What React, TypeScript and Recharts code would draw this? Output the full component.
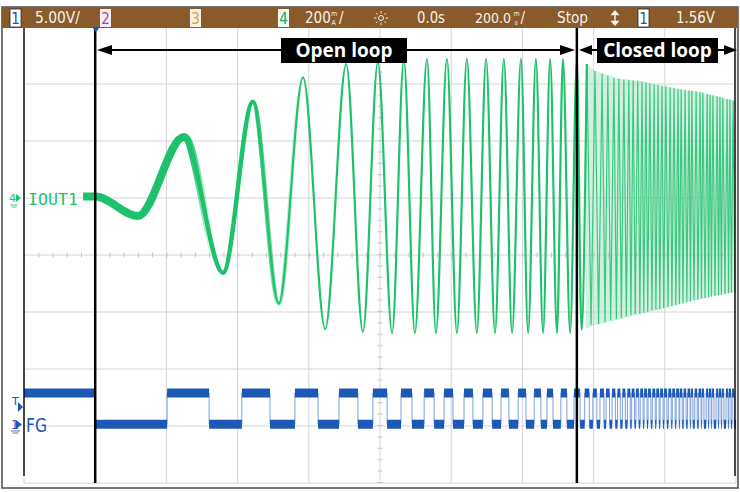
import React from 'react';
import { ComposedChart, Line, Area, XAxis, YAxis, CartesianGrid, ReferenceLine } from 'recharts';

// scope screen: 10 div x 200 ms, 8 div vertical
const TIME_TICKS = [-1000, -800, -600, -400, -200, 0, 200, 400, 600, 800, 1000];
const DIV_TICKS = [-4, -3, -2, -1, 0, 1, 2, 3, 4];

// channel 4 (IOUT1), 200 mA/div, ground at +1 div
const IOUT_SCALE = 200;
const IOUT_OFFSET = 1;
// channel 1 (FG), 5 V/div, ground at -3 div
const FG_SCALE = 5;
const FG_OFFSET = -3;

// open loop: peaks / troughs of the current [ms, mA]
const IOUT_OPEN = [
  [-834, 5], [-800, 5], [-680, -63], [-551, 214], [-441, -262], [-357, 338], [-284, -370],
  [-216, 423], [-154, -460], [-95, 470], [-48, -470], [-6, 477], [34, -474], [67, 484],
  [98, -474], [132, 488], [157, -474], [188, 488], [216, -474], [244, 488], [272, -474],
  [298, 488], [323, -474], [348, 488], [371, -474], [396, 488], [416, -474], [438, 488],
  [458, -474], [478, 488], [497, -474], [514, 488], [534, -474], [553, 484], [566, -462],
  [581, 470],
];

// closed loop: peaks / troughs [ms, mA]
const IOUT_CLOSED = [
  [581, 470], [593, -446], [604, 446], [614, -443], [624, 437], [632, -436], [640, 429],
  [648, -430], [657, 421], [664, -425], [671, 418], [678, -421], [685, 416], [692, -416],
  [699, 414], [705, -412], [711, 412], [717, -408], [724, 411], [730, -407], [736, 409],
  [741, -403], [747, 406], [752, -399], [758, 402], [764, -395], [770, 399], [775, -392],
  [781, 397], [786, -390], [792, 394], [797, -387], [803, 391], [809, -383], [815, 388],
  [820, -380], [826, 386], [831, -376], [837, 383], [841, -373], [846, 381], [851, -370],
  [857, 379], [862, -366], [868, 377], [872, -363], [876, 376], [882, -360], [888, 374],
  [893, -356], [899, 372], [903, -353], [907, 369], [913, -351], [919, 365], [923, -348],
  [927, 362], [931, -346], [935, 360], [941, -344], [947, 357], [951, -341], [955, 354],
  [959, -339], [963, 351], [969, -337], [975, 347], [979, -334], [983, 345], [987, -332],
  [992, 342], [997, -330],
];

// closed loop envelope [ms, low mA, high mA]
const IOUT_ENVELOPE = [
  [578, -460, 472], [604, -446, 446], [674, -425, 418], [730, -407, 411], [787, -390, 396],
  [843, -372, 382], [899, -354, 372], [955, -340, 354], [1000, -330, 340],
];

// FG edges [ms], starts high, alternating fall / rise
const FG_HIGH = 2.9;
const FG_LOW = 0.15;
const FG_EDGES = [
  -800, -598, -480, -388, -309, -239, -174, -115, -62, -20, 20, 59, 90, 124, 152, 180, 205,
  236, 261, 289, 315, 340, 362, 388, 410, 433, 452, 469, 486, 508, 525, 545, 562, 575, 588,
  598, 609, 618, 629, 635, 645, 652, 661, 667, 675, 681, 689, 695, 703, 707, 715, 719, 727,
  731, 739, 742, 750, 753, 761, 765, 773, 776, 784, 787, 795, 798, 806, 810, 818, 821, 829,
  832, 840, 842, 849, 853, 860, 864, 871, 873, 879, 884, 891, 895, 902, 904, 910, 916, 922,
  924, 930, 932, 938, 944, 950, 952, 958, 960, 966, 972, 978, 980, 986, 989, 995,
];

const iout = (mA: number) => IOUT_OFFSET + mA / IOUT_SCALE;
const fg = (v: number) => FG_OFFSET + v / FG_SCALE;

const openData = IOUT_OPEN.map(([t, v]) => ({ t, v: iout(v) }));
const closedData = IOUT_CLOSED.map(([t, v]) => ({ t, v: iout(v) }));
const envData = IOUT_ENVELOPE.map(([t, lo, hi]) => ({ t, range: [iout(lo), iout(hi)] }));

// FG step trace and the thick level blocks
const fgStep: { t: number; v: number }[] = [{ t: -1000, v: fg(FG_HIGH) }];
const fgBlocks: { t: number; v: number | null }[] = [];
let level = FG_HIGH;
let start = -1000;
FG_EDGES.forEach((e) => {
  fgBlocks.push({ t: start, v: fg(level) }, { t: e, v: fg(level) }, { t: e, v: null });
  level = level === FG_HIGH ? FG_LOW : FG_HIGH;
  start = e;
  fgStep.push({ t: e, v: fg(level) });
});
fgBlocks.push({ t: start, v: fg(level) }, { t: 1000, v: fg(level) });
fgStep.push({ t: 1000, v: fg(level) });

const GREEN = '#1fc26c';
const BLUE = '#1c58b6';
const BAR = '#8b5a2b';
const BAR_TEXT = '#f6f1ea';

const Overlay = () => (
  <svg width={740} height={492} style={{ position: 'absolute', left: 0, top: 0, pointerEvents: 'none' }}>
    {/* screen frame */}
    <rect x={2} y={7} width={736} height={481} fill="none" stroke="#4a4a4a" strokeWidth={1.5} />
    <line x1={24} y1={27} x2={24} y2={476} stroke="#111" strokeWidth={1.5} />
    <line x1={735} y1={27} x2={735} y2={476} stroke="#111" strokeWidth={1.5} />

    {/* status bar */}
    <rect x={2} y={7} width={736} height={21} fill={BAR} />
    <g fontFamily="'DejaVu Sans Condensed', 'DejaVu Sans', sans-serif" fontSize={16} fill={BAR_TEXT}>
      <rect x={10} y={9} width={11} height={18} fill="#fff" stroke="#2b2b2b" strokeWidth={0.8} />
      <text x={15.5} y={24} textAnchor="middle" fill="#1f4fa8" fontSize={15}>1</text>
      <text x={35} y={23} textLength={45} lengthAdjust="spacingAndGlyphs">5.00V/</text>
      <rect x={100} y={9} width={11} height={18} fill="#f4eef4" />
      <text x={105.5} y={24} textAnchor="middle" fill="#b040b0" fontSize={15}>2</text>
      <rect x={190} y={9} width={11} height={18} fill="#f7f0e4" />
      <text x={195.5} y={24} textAnchor="middle" fill="#e0a030" fontSize={15}>3</text>
      <rect x={278} y={9} width={11} height={18} fill="#eef8f1" />
      <text x={283.5} y={24} textAnchor="middle" fill="#1faa60" fontSize={15}>4</text>
      <text x={305} y={23} fontSize={15}>
        200
        <tspan x={331} y={16} fontSize={7}>m</tspan>
        <tspan x={331.5} y={25} fontSize={7}>A</tspan>
        <tspan x={339} y={23} fontSize={15}>/</tspan>
      </text>
      <g stroke={BAR_TEXT} strokeWidth={1}>
        <circle cx={381} cy={18} r={2.5} fill="none" />
        <line x1={381} y1={11} x2={381} y2={13.5} />
        <line x1={381} y1={22.5} x2={381} y2={25} />
        <line x1={374} y1={18} x2={376.5} y2={18} />
        <line x1={385.5} y1={18} x2={388} y2={18} />
        <line x1={376} y1={13} x2={377.5} y2={14.5} />
        <line x1={384.5} y1={21.5} x2={386} y2={23} />
        <line x1={386} y1={13} x2={384.5} y2={14.5} />
        <line x1={377.5} y1={21.5} x2={376} y2={23} />
      </g>
      <text x={417} y={23} textLength={28} lengthAdjust="spacingAndGlyphs">0.0s</text>
      <text x={475} y={23} fontSize={14}>
        200.0
        <tspan x={513.5} y={16} fontSize={7}>m</tspan>
        <tspan x={514.5} y={25} fontSize={7}>s</tspan>
        <tspan x={520.5} y={23} fontSize={15}>/</tspan>
      </text>
      <text x={557} y={23} textLength={31} lengthAdjust="spacingAndGlyphs">Stop</text>
      <g stroke={BAR_TEXT} strokeWidth={1.4} fill={BAR_TEXT}>
        <line x1={615} y1={12} x2={615} y2={24} />
        <path d="M612 14.5 L615 11 L618 14.5 Z" />
        <path d="M612 21.5 L615 25 L618 21.5 Z" />
      </g>
      <rect x={638} y={9} width={11} height={18} fill="#fff" stroke="#2b2b2b" strokeWidth={0.8} />
      <text x={643.5} y={24} textAnchor="middle" fill="#1f4fa8" fontSize={15}>1</text>
      <text x={676} y={23} textLength={39} lengthAdjust="spacingAndGlyphs">1.56V</text>
    </g>

    {/* trigger position marker */}
    <path d="M92 27 L100 27 L96 32 Z" fill={BLUE} />

    {/* channel markers */}
    <text x={9} y={202} fontSize={11} fill={GREEN} fontFamily="'DejaVu Sans', sans-serif">4</text>
    <path d="M16 194 L21 198 L16 202 Z" fill={GREEN} />
    <g stroke={GREEN} strokeWidth={0.8}>
      <line x1={10} y1={205} x2={18} y2={205} />
      <line x1={11.5} y1={207} x2={16.5} y2={207} />
    </g>
    <text x={28} y={205} fontSize={16} fill={GREEN} fontFamily="'DejaVu Sans Mono', monospace"
      textLength={50} lengthAdjust="spacingAndGlyphs">IOUT1</text>

    <text x={12} y={405} fontSize={11} fill={BLUE} fontFamily="'DejaVu Sans', sans-serif">T</text>
    <path d="M18 402 L23 407 L18 412 Z" fill={BLUE} />
    <text x={11} y={429} fontSize={12} fill={BLUE} fontFamily="'DejaVu Sans', sans-serif">1</text>
    <path d="M16 420 L22 424.5 L16 429 Z" fill={BLUE} />
    <g stroke={BLUE} strokeWidth={0.8}>
      <line x1={11} y1={431} x2={20} y2={431} />
      <line x1={12.5} y1={433} x2={18.5} y2={433} />
    </g>
    <text x={26} y={432} fontSize={20} fill={BLUE} fontFamily="'DejaVu Sans', sans-serif"
      textLength={21} lengthAdjust="spacingAndGlyphs">FG</text>

    {/* open / closed loop annotations */}
    <g stroke="#000" strokeWidth={2}>
      <line x1={100} y1={50} x2={572} y2={50} />
      <line x1={582} y1={50} x2={597} y2={50} />
      <line x1={718} y1={50} x2={733} y2={50} />
    </g>
    <g fill="#000">
      <path d="M97 50 L112 45 L112 55 Z" />
      <path d="M575 50 L560 45 L560 55 Z" />
      <path d="M579 50 L592 45 L592 55 Z" />
      <path d="M737 50 L724 45 L724 55 Z" />
    </g>
    <rect x={281} y={38} width={126} height={25} fill="#000" />
    <text x={344} y={57} textAnchor="middle" fontSize={19} fontWeight={700} fill="#fff"
      fontFamily="'Open Sans', sans-serif">Open loop</text>
    <rect x={597} y={38} width={121} height={25} fill="#000" />
    <text x={657.5} y={57} textAnchor="middle" fontSize={19} fontWeight={700} fill="#fff"
      fontFamily="'Open Sans', sans-serif">Closed loop</text>
  </svg>
);

const App = () => (
  <div style={{ position: 'absolute', left: 0, top: 0, width: 740, height: 492, background: '#fff' }}>
    <ComposedChart width={740} height={492} margin={{ top: 27, right: 4, bottom: 9, left: 24 }}>
      <defs>
        {/* noise band of the slow start, fading out as the frequency rises */}
        <linearGradient id="fadeThick" gradientUnits="userSpaceOnUse" x1={0} y1={0} x2={740} y2={0}>
          <stop offset={190 / 740} stopColor={GREEN} stopOpacity={1} />
          <stop offset={212 / 740} stopColor={GREEN} stopOpacity={0} />
        </linearGradient>
        <linearGradient id="fadeMid" gradientUnits="userSpaceOnUse" x1={0} y1={0} x2={740} y2={0}>
          <stop offset={255 / 740} stopColor={GREEN} stopOpacity={1} />
          <stop offset={300 / 740} stopColor={GREEN} stopOpacity={0} />
        </linearGradient>
      </defs>
      <XAxis type="number" dataKey="t" domain={[-1000, 1000]} ticks={TIME_TICKS} hide allowDataOverflow />
      <YAxis type="number" domain={[-4, 4]} ticks={DIV_TICKS} hide allowDataOverflow />
      <CartesianGrid stroke="#d4d4d4" strokeWidth={1} />
      <ReferenceLine y={0} stroke="#c4c4c4" strokeWidth={5} strokeDasharray="1 13.24" />
      <ReferenceLine x={0} stroke="#c4c4c4" strokeWidth={5} strokeDasharray="1 10.4" />

      <Area data={envData} dataKey="range" type="linear" stroke="none" fill="#a9e6c5"
        fillOpacity={0.55} isAnimationActive={false} />
      <Line data={closedData} dataKey="v" type="linear" stroke="#2cc277" strokeWidth={1.2}
        strokeOpacity={0.9} dot={false} isAnimationActive={false} />
      <Line data={openData} dataKey="v" type="monotone" stroke="url(#fadeThick)" strokeWidth={8}
        dot={false} isAnimationActive={false} />
      <Line data={openData} dataKey="v" type="monotone" stroke="url(#fadeMid)" strokeWidth={4.5}
        dot={false} isAnimationActive={false} />
      <Line data={openData} dataKey="v" type="monotone" stroke={GREEN} strokeWidth={2.2}
        dot={false} isAnimationActive={false} />

      <Line data={fgStep} dataKey="v" type="stepAfter" stroke="#7b9fdc" strokeWidth={1}
        dot={false} isAnimationActive={false} />
      <Line data={fgBlocks} dataKey="v" type="linear" stroke={BLUE} strokeWidth={9}
        strokeLinecap="butt" dot={false} isAnimationActive={false} />

      <ReferenceLine x={-800} stroke="#000" strokeWidth={2.5} />
      <ReferenceLine x={553} stroke="#000" strokeWidth={2.5} />
    </ComposedChart>
    <Overlay />
  </div>
);

export default App;
